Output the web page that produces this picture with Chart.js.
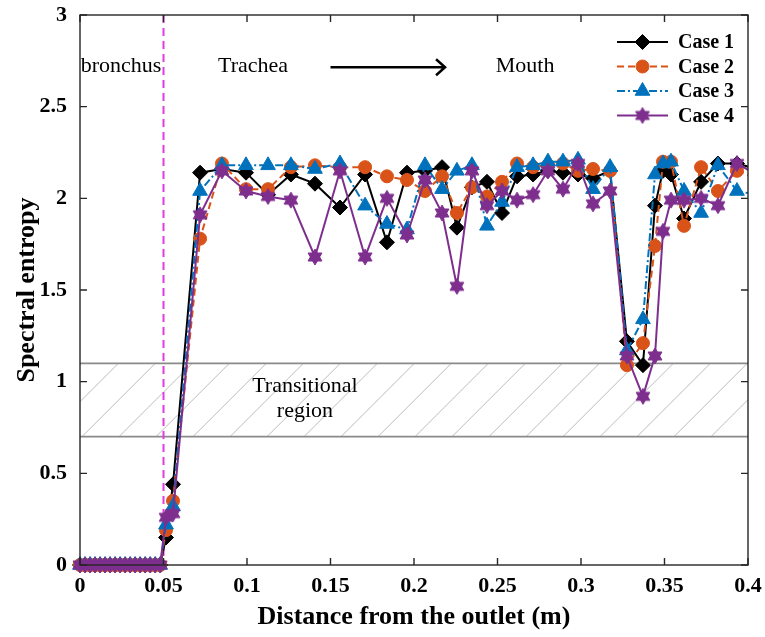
<!DOCTYPE html>
<html>
<head>
<meta charset="utf-8">
<script src="https://cdn.jsdelivr.net/npm/chart.js@4.4.0/dist/chart.umd.min.js"></script>
<style>
html, body { margin: 0; padding: 0; background: #fff; }
#wrap { width: 765px; height: 637px; }
</style>
</head>
<body>
<div id="wrap"><canvas id="chart" width="765" height="637"></canvas></div>
<script>
// distance from the outlet (m), shared by all four cases
var distance = [0, 0.003, 0.006, 0.009, 0.012, 0.015, 0.018, 0.021, 0.024, 0.027, 0.030, 0.033, 0.036, 0.039, 0.042, 0.045, 0.048,
    0.0515, 0.0557, 0.0719, 0.0850, 0.0994, 0.1126, 0.1263, 0.1407, 0.1557, 0.1707, 0.1838, 0.1958,
    0.2066, 0.2168, 0.2257, 0.2347, 0.2437, 0.2527, 0.2617, 0.2713, 0.2802, 0.2892, 0.2982, 0.3072,
    0.3174, 0.3275, 0.3371, 0.3443, 0.3491, 0.3539, 0.3617, 0.3719, 0.3820, 0.3934, 0.405];

var case1 = [0, 0, 0, 0, 0, 0, 0, 0, 0, 0, 0, 0, 0, 0, 0, 0, 0,
    0.15, 0.44, 2.14, 2.16, 2.14, 2.02, 2.13, 2.08, 1.95, 2.13, 1.76, 2.14,
    2.15, 2.17, 1.84, 2.06, 2.09, 1.92, 2.12, 2.13, 2.15, 2.14, 2.13, 2.11,
    2.15, 1.22, 1.09, 1.96, 2.15, 2.13, 1.89, 2.09, 2.19, 2.19, 2.16];

var case2 = [0, 0, 0, 0, 0, 0, 0, 0, 0, 0, 0, 0, 0, 0, 0, 0, 0,
    0.19, 0.35, 1.78, 2.19, 2.05, 2.05, 2.17, 2.18, 2.17, 2.17, 2.12, 2.10,
    2.04, 2.12, 1.92, 2.06, 2.01, 2.09, 2.19, 2.17, 2.18, 2.19, 2.15, 2.16,
    2.15, 1.09, 1.21, 1.74, 2.20, 2.20, 1.85, 2.17, 2.04, 2.15, 2.11];

var case3 = [0, 0, 0, 0, 0, 0, 0, 0, 0, 0, 0, 0, 0, 0, 0, 0, 0,
    0.22, 0.32, 2.04, 2.18, 2.18, 2.18, 2.18, 2.16, 2.19, 1.96, 1.86, 1.83,
    2.18, 2.05, 2.15, 2.18, 1.85, 1.98, 2.17, 2.18, 2.20, 2.20, 2.21, 2.05,
    2.17, 1.17, 1.34, 2.13, 2.19, 2.20, 2.04, 1.92, 2.18, 2.04, 2.02];

var case4 = [0, 0, 0, 0, 0, 0, 0, 0, 0, 0, 0, 0, 0, 0, 0, 0, 0,
    0.26, 0.28, 1.91, 2.15, 2.04, 2.01, 1.99, 1.68, 2.15, 1.68, 2.00, 1.80,
    2.10, 1.92, 1.52, 2.15, 1.96, 2.04, 1.99, 2.02, 2.15, 2.05, 2.19, 1.97,
    2.04, 1.14, 0.92, 1.14, 1.82, 1.99, 1.99, 2.00, 1.96, 2.19, 2.13];

var caseNames = ['Case 1', 'Case 2', 'Case 3', 'Case 4'];

var xTickValues = [0, 0.05, 0.1, 0.15, 0.2, 0.25, 0.3, 0.35, 0.4];
var xTickLabels = ['0', '0.05', '0.1', '0.15', '0.2', '0.25', '0.3', '0.35', '0.4'];
var yTickValues = [0, 0.5, 1, 1.5, 2, 2.5, 3];
var yTickLabels = ['0', '0.5', '1', '1.5', '2', '2.5', '3'];

var bronchusEdge = 0.05;        // dashed divider
var transitional = [0.7, 1.1];  // hatched band

var serif = "'Liberation Serif', 'Times New Roman', serif";

// six-pointed star marker (matlab hexagram)
function hexagram(color, r) {
    var size = Math.ceil(r * 2 + 2);
    var c = document.createElement('canvas');
    c.width = size; c.height = size;
    var g = c.getContext('2d');
    var m = size / 2;
    g.fillStyle = color;
    g.strokeStyle = color;
    g.lineWidth = 1;
    for (var k = 0; k < 2; k++) {
        g.beginPath();
        for (var i = 0; i < 3; i++) {
            var ang = -Math.PI / 2 + k * Math.PI + i * 2 * Math.PI / 3;
            var px = m + r * Math.cos(ang), py = m + r * Math.sin(ang);
            if (i === 0) g.moveTo(px, py); else g.lineTo(px, py);
        }
        g.closePath();
        g.fill();
        g.stroke();
    }
    return c;
}

var styles = [
    { color: '#000000', point: 'rectRot', radius: 7.5, dash: [] },
    { color: '#D95319', point: 'circle', radius: 6.5, dash: [7, 4] },
    { color: '#0072BD', point: 'triangle', radius: 8.5, dash: [8, 3, 2, 3] },
    { color: '#7E2F8E', point: hexagram('#7E2F8E', 8), radius: 8.5, dash: [] }
];

var series = [case1, case2, case3, case4];

var datasets = series.map(function(vals, i) {
    var st = styles[i];
    return {
        label: caseNames[i],
        data: distance.map(function(d, j) { return { x: d, y: vals[j] }; }),
        borderColor: st.color,
        backgroundColor: st.color,
        borderWidth: 2,
        borderDash: st.dash,
        pointStyle: st.point,
        pointRadius: st.radius,
        pointBorderWidth: 1,
        pointBorderColor: st.color,
        pointBackgroundColor: st.color,
        tension: 0,
        order: 4 - i,
        clip: { left: 12, top: 12, right: 0, bottom: 12 }
    };
});

// text notes placed in data coordinates
var notes = [
    { text: 'bronchus', x: 0.0246, y: 2.72 },
    { text: 'Trachea', x: 0.1036, y: 2.72 },
    { text: 'Mouth', x: 0.2665, y: 2.72 },
    { text: 'Transitional', x: 0.1347, y: 0.975 },
    { text: 'region', x: 0.1347, y: 0.838 }
];
var arrow = { x0: 0.150, x1: 0.2186, y: 2.715 };

var decor = {
    id: 'decor',
    beforeDatasetsDraw: function(chart) {
        var ctx = chart.ctx, a = chart.chartArea;
        var xs = chart.scales.x, ys = chart.scales.y;
        var yTop = ys.getPixelForValue(transitional[1]);
        var yBot = ys.getPixelForValue(transitional[0]);

        // hatch
        ctx.save();
        ctx.beginPath();
        ctx.rect(a.left, yTop, a.right - a.left, yBot - yTop);
        ctx.clip();
        ctx.strokeStyle = '#bdbdbd';
        ctx.lineWidth = 1;
        var h = yBot - yTop;
        for (var x0 = a.left + 2 - 37 * 3; x0 < a.right; x0 += 37) {
            ctx.beginPath();
            ctx.moveTo(x0, yBot);
            ctx.lineTo(x0 + h, yTop);
            ctx.stroke();
        }
        ctx.restore();

        ctx.save();
        ctx.strokeStyle = '#8a8a8a';
        ctx.lineWidth = 1.6;
        [yTop, yBot].forEach(function(y) {
            ctx.beginPath();
            ctx.moveTo(a.left, y);
            ctx.lineTo(a.right, y);
            ctx.stroke();
        });

        // bronchus / trachea divider
        var xd = xs.getPixelForValue(bronchusEdge);
        ctx.strokeStyle = '#e03ce0';
        ctx.lineWidth = 2;
        ctx.setLineDash([8, 5]);
        ctx.beginPath();
        ctx.moveTo(xd, ys.getPixelForValue(3));
        ctx.lineTo(xd, ys.getPixelForValue(0));
        ctx.stroke();
        ctx.setLineDash([]);

        // notes
        ctx.fillStyle = '#000';
        ctx.font = '22px ' + serif;
        ctx.textAlign = 'center';
        ctx.textBaseline = 'middle';
        notes.forEach(function(n) {
            ctx.fillText(n.text, xs.getPixelForValue(n.x), ys.getPixelForValue(n.y));
        });

        // arrow
        var ax0 = xs.getPixelForValue(arrow.x0), ax1 = xs.getPixelForValue(arrow.x1);
        var ay = ys.getPixelForValue(arrow.y);
        ctx.strokeStyle = '#000';
        ctx.lineWidth = 2.5;
        ctx.beginPath();
        ctx.moveTo(ax0, ay);
        ctx.lineTo(ax1, ay);
        ctx.moveTo(ax1 - 9, ay - 8);
        ctx.lineTo(ax1, ay);
        ctx.lineTo(ax1 - 9, ay + 8);
        ctx.stroke();
        ctx.restore();
    },
    afterDraw: function(chart) {
        var ctx = chart.ctx, a = chart.chartArea;
        var xs = chart.scales.x, ys = chart.scales.y;
        ctx.save();
        ctx.strokeStyle = '#262626';
        ctx.lineWidth = 1.4;
        ctx.strokeRect(a.left, a.top, a.right - a.left, a.bottom - a.top);
        var tl = 7;
        ctx.beginPath();
        xTickValues.forEach(function(v) {
            var x = xs.getPixelForValue(v);
            ctx.moveTo(x, a.bottom); ctx.lineTo(x, a.bottom - tl);
            ctx.moveTo(x, a.top); ctx.lineTo(x, a.top + tl);
        });
        yTickValues.forEach(function(v) {
            var y = ys.getPixelForValue(v);
            ctx.moveTo(a.left, y); ctx.lineTo(a.left + tl, y);
            ctx.moveTo(a.right, y); ctx.lineTo(a.right - tl, y);
        });
        ctx.stroke();

        // legend: line sample + marker + bold text
        var lx0 = 617, lx1 = 668, ly = 42, step = 24.5;
        ctx.font = 'bold 20px ' + serif;
        ctx.textAlign = 'left';
        ctx.textBaseline = 'middle';
        styles.forEach(function(st, i) {
            var y = ly + i * step;
            ctx.strokeStyle = st.color;
            ctx.fillStyle = st.color;
            ctx.lineWidth = 2;
            ctx.setLineDash(st.dash);
            ctx.beginPath();
            ctx.moveTo(lx0, y);
            ctx.lineTo(lx1, y);
            ctx.stroke();
            ctx.setLineDash([]);
            ctx.lineWidth = 1;
            Chart.helpers.drawPoint(ctx, { pointStyle: st.point, radius: st.radius, rotation: 0, borderWidth: 1 }, (lx0 + lx1) / 2, y);
            ctx.fillStyle = '#000';
            ctx.fillText(caseNames[i], 678, y + 1);
        });
        ctx.restore();
    }
};

new Chart(document.getElementById('chart').getContext('2d'), {
    type: 'line',
    data: { datasets: datasets },
    options: {
        responsive: false,
        animation: false,
        devicePixelRatio: 1,
        layout: { padding: { left: 0, right: 17, top: 15, bottom: 0 } },
        plugins: { legend: { display: false }, tooltip: { enabled: false } },
        scales: {
            x: {
                type: 'linear',
                min: 0,
                max: 0.4,
                grid: { display: false },
                border: { display: false },
                afterBuildTicks: function(s) { s.ticks = xTickValues.map(function(v) { return { value: v }; }); },
                afterFit: function(s) { s.height = 72; s.paddingLeft = 0; s.paddingRight = 0; },
                ticks: {
                    color: '#000',
                    padding: 0,
                    maxRotation: 0,
                    autoSkip: false,
                    font: { family: serif, size: 22, weight: 'bold' },
                    callback: function(v, i) { return xTickLabels[i]; }
                },
                title: {
                    display: true,
                    text: 'Distance from the outlet (m)',
                    color: '#000',
                    padding: { top: 0, bottom: 4 },
                    font: { family: serif, size: 26, weight: 'bold' }
                }
            },
            y: {
                type: 'linear',
                min: 0,
                max: 3,
                grid: { display: false },
                border: { display: false },
                afterBuildTicks: function(s) { s.ticks = yTickValues.map(function(v) { return { value: v }; }); },
                afterFit: function(s) { s.width = 80; s.paddingTop = 0; s.paddingBottom = 0; },
                ticks: {
                    color: '#000',
                    padding: 5,
                    autoSkip: false,
                    font: { family: serif, size: 22, weight: 'bold' },
                    callback: function(v, i) { return yTickLabels[i]; }
                },
                title: {
                    display: true,
                    text: 'Spectral entropy',
                    color: '#000',
                    padding: { top: 12, bottom: 0 },
                    font: { family: serif, size: 26, weight: 'bold' }
                }
            }
        }
    },
    plugins: [decor]
});
</script>
</body>
</html>
